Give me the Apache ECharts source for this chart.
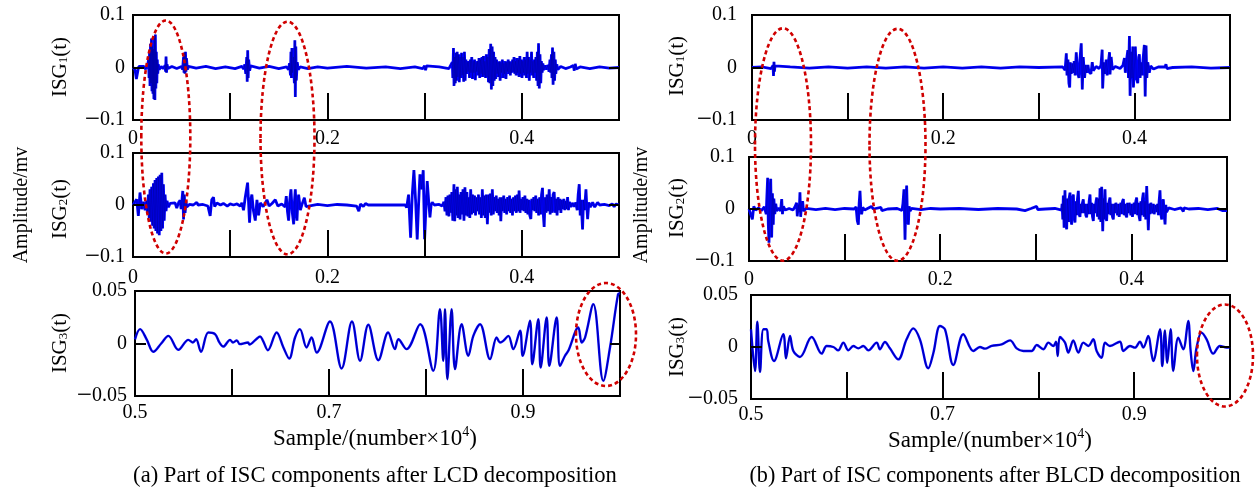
<!DOCTYPE html>
<html><head><meta charset="utf-8">
<script src="https://cdn.jsdelivr.net/npm/echarts@6/dist/echarts.min.js"></script>
<style>html,body{margin:0;padding:0;background:#fff}#c{width:1260px;height:494px}</style>
</head><body><div id="c"></div>
<script>
// ---------- tick labels ----------
const xLabelsTop = ['0', '0.2', '0.4'];
const xLabelsBottom = ['0.5', '0.7', '0.9'];
const yLabelsWide = ['\u22120.1', '0', '0.1'];
const yLabelsNarrow = ['\u22120.05', '0', '0.05'];

// ---------- (a) LCD ----------
const lcd1 = [[0,0],[0.002,-0.004],[0.0035,-0.022],[0.005,-0.006],[0.006,0.002],[0.008,0],[0.011,0.002],[0.013,-0.003],[0.015,0.004],
[0.016,0.015],[0.0165,-0.02],[0.017,0.03],[0.0175,-0.035],[0.018,0.045],[0.0185,-0.03],[0.019,0.055],[0.0195,-0.045],[0.020,0.04],[0.0205,-0.05],[0.021,0.035],[0.0215,-0.06],[0.022,0.06],[0.0225,-0.062],[0.023,0.063],[0.0235,-0.04],[0.024,0.03],[0.0245,-0.03],[0.025,0.015],[0.0255,-0.012],[0.026,0.006],[0.027,-0.004],[0.029,0.002],[0.031,-0.002],
[0.033,0.004],[0.0335,-0.008],[0.034,0.021],[0.0345,-0.01],[0.035,0.006],[0.036,-0.002],[0.04,0.002],[0.045,-0.002],[0.05,0.002],
[0.051,-0.004],[0.052,0.02],[0.0525,-0.01],[0.053,0.028],[0.0535,-0.012],[0.054,0.03],[0.0545,-0.008],[0.055,0.018],[0.056,-0.004],[0.057,0.002],
[0.065,-0.001],[0.075,0.002],[0.085,-0.002],[0.095,0.001],[0.105,-0.002],[0.112,0.002],
[0.114,-0.003],[0.115,0.006],[0.116,-0.012],[0.117,0.02],[0.1175,-0.027],[0.118,0.033],[0.1185,-0.02],[0.119,0.015],[0.12,-0.006],[0.121,0.003],
[0.13,-0.001],[0.14,0.002],[0.15,-0.002],[0.158,0.001],
[0.16,-0.004],[0.161,0.008],[0.162,-0.015],[0.1625,0.03],[0.163,-0.02],[0.1635,0.037],[0.164,-0.01],[0.165,0.02],[0.166,-0.03],[0.1665,0.052],[0.167,-0.056],[0.1675,0.04],[0.168,-0.025],[0.169,0.01],[0.17,-0.004],[0.172,0.001],
[0.18,-0.002],[0.19,0.001],[0.2,-0.001],[0.22,0.002],[0.24,-0.001],[0.26,0.001],[0.275,-0.002],[0.29,0.001],[0.298,-0.002],[0.3,0.003],[0.301,-0.005],[0.302,0.003],[0.304,0],[0.315,0.001],[0.325,-0.002],
[0.3285,0.01],[0.329,-0.02],[0.3297,0.037],[0.3303,-0.035],[0.331,0.02],[0.3316,-0.03],[0.3322,0.028],[0.3328,-0.025],[0.3335,0.03],[0.3342,-0.018],[0.335,0.025],[0.3357,-0.028],[0.3365,0.02],[0.3372,-0.02],[0.338,0.028],[0.3387,-0.015],[0.3395,0.02],[0.3402,-0.027],[0.341,0.03],[0.3417,-0.025],[0.3425,0.015],[0.3432,-0.012],[0.344,0.01],[0.3447,-0.008],[0.3455,0.012],[0.3462,-0.02],[0.347,0.015],[0.3477,-0.01],[0.3485,0.02],[0.3492,-0.022],[0.35,0.012],[0.3507,-0.01],[0.3515,0.015],[0.3522,-0.024],[0.353,0.01],[0.3537,-0.008],[0.3545,0.012],[0.3552,-0.015],[0.356,0.018],[0.3567,-0.02],[0.3575,0.015],[0.3582,-0.012],[0.359,0.02],[0.3597,-0.018],[0.3605,0.022],[0.3612,-0.015],[0.362,0.012],[0.3627,-0.02],[0.3635,0.025],[0.3642,-0.018],[0.365,0.02],[0.3657,-0.028],[0.3665,0.035],[0.3672,-0.03],[0.368,0.045],[0.3687,-0.042],[0.3695,0.04],[0.3702,-0.035],[0.371,0.03],[0.3717,-0.025],[0.3725,0.02],[0.3732,-0.022],[0.374,0.015],[0.3747,-0.012],[0.3755,0.01],[0.3762,-0.018],[0.377,0.012],[0.3777,-0.025],[0.3785,0.01],[0.3792,-0.01],[0.38,0.015],[0.3807,-0.02],[0.3815,0.008],[0.3822,-0.012],[0.383,0.012],[0.3837,-0.022],[0.3845,0.01],[0.3852,-0.008],[0.386,0.015],[0.3867,-0.012],[0.3875,0.012],[0.3882,-0.015],[0.389,0.01],[0.3897,-0.01],[0.3905,0.015],[0.3912,-0.008],[0.392,0.02],[0.3927,-0.012],[0.3935,0.012],[0.3942,-0.015],[0.395,0.018],[0.3957,-0.01],[0.3965,0.015],[0.3972,-0.018],[0.398,0.022],[0.3987,-0.012],[0.3995,0.015],[0.4002,-0.02],[0.401,0.012],[0.4017,-0.01],[0.4025,0.02],[0.4032,-0.015],[0.404,0.015],[0.4047,-0.02],[0.4055,0.03],[0.4062,-0.012],[0.407,0.02],[0.4077,-0.025],[0.4085,0.015],[0.4092,-0.01],[0.41,0.03],[0.4107,-0.015],[0.4115,0.012],[0.4122,-0.02],[0.413,0.015],[0.4137,-0.01],[0.4145,0.02],[0.4152,-0.025],[0.416,0.03],[0.4167,-0.035],[0.4172,0.046],[0.418,-0.04],[0.4187,0.025],[0.4195,-0.03],[0.4202,0.012],[0.421,-0.01],[0.4217,0.008],[0.4225,-0.005],[0.424,0.004],[0.4255,-0.004],[0.427,0.005],[0.428,-0.008],[0.429,0.015],[0.4297,-0.01],[0.4305,0.025],[0.431,-0.02],[0.4316,0.038],[0.4322,-0.033],[0.433,0.03],[0.4337,-0.025],[0.4345,0.015],[0.435,-0.012],[0.436,0.006],[0.437,-0.004],[0.44,0.002],[0.445,-0.002],[0.45,0.001],[0.453,0.004],[0.454,-0.006],[0.455,0.007],[0.456,-0.003],[0.46,0.001],[0.47,-0.002],[0.48,0.001],[0.49,-0.001],[0.5,0]];

const lcd2 = [[0,0],[0.002,0.003],[0.0038,0.011],[0.0055,-0.021],[0.0072,0.024],[0.009,-0.008],[0.0107,0.006],[0.0125,-0.01],[0.0141,0.008],[0.015,-0.015],[0.0158,0.02],[0.0167,-0.025],[0.0175,0.03],[0.0184,-0.032],[0.0192,0.035],[0.0201,-0.04],[0.021,0.042],[0.0218,-0.045],[0.0227,0.048],[0.0235,-0.05],[0.0244,0.052],[0.0252,-0.055],[0.0261,0.055],[0.027,-0.058],[0.0279,0.058],[0.0287,-0.05],[0.0296,0.062],[0.0304,-0.045],[0.0313,0.04],[0.0321,-0.03],[0.033,0.02],[0.034,-0.012],[0.035,0.008],[0.0365,-0.004],[0.0381,0.003],[0.04,0],[0.0433,0.004],[0.045,-0.006],[0.047,0.005],[0.0485,0.009],[0.0495,-0.008],[0.0512,0.027],[0.052,-0.028],[0.0528,0.02],[0.0536,-0.015],[0.0545,0.008],[0.0553,-0.004],[0.058,0.001],[0.062,0],[0.0656,0.005],[0.067,0],[0.072,0.001],[0.077,-0.002],[0.0794,-0.021],[0.081,0.01],[0.0828,0.015],[0.084,-0.003],[0.0863,0.004],[0.09,0],[0.093,0.003],[0.097,-0.002],[0.1,0.002],[0.1034,0],[0.107,0.002],[0.1103,-0.002],[0.112,0.004],[0.1137,-0.01],[0.1155,0.015],[0.1179,0.043],[0.1199,-0.034],[0.1212,0.01],[0.1223,0.02],[0.124,-0.012],[0.1258,-0.03],[0.1275,0.01],[0.1292,-0.02],[0.131,0.004],[0.134,-0.003],[0.1378,0.01],[0.14,-0.002],[0.143,0.003],[0.1464,0.01],[0.149,-0.002],[0.153,0.002],[0.1565,-0.004],[0.1577,0.017],[0.1589,-0.012],[0.1601,-0.03],[0.1613,0.01],[0.1625,0.03],[0.1639,-0.015],[0.1653,-0.037],[0.1662,0.01],[0.167,0.03],[0.1679,-0.01],[0.1687,-0.03],[0.1695,0.005],[0.1704,0.02],[0.1722,-0.01],[0.174,0.002],[0.1763,0.014],[0.178,-0.003],[0.18,0],[0.19,0.001],[0.2,-0.001],[0.21,0.001],[0.22,0],[0.23,-0.002],[0.2323,-0.012],[0.234,0.002],[0.237,-0.003],[0.2392,0.003],[0.242,0],[0.26,0],[0.28,0],[0.2815,-0.005],[0.2835,0.02],[0.2856,-0.063],[0.2873,0.02],[0.289,0.067],[0.2907,0.01],[0.2924,-0.066],[0.2938,0.0],[0.2952,0.059],[0.2969,0.03],[0.2986,0.067],[0.2993,0.0],[0.3,-0.066],[0.3013,-0.01],[0.3027,0.046],[0.3041,0.01],[0.3055,-0.024],[0.3067,0.0],[0.3079,0.005],[0.31,0],[0.315,0.001],[0.318,-0.002],
[0.3199,0.006],[0.321,-0.012],[0.322,0.015],[0.323,-0.02],[0.324,0.018],[0.325,-0.022],[0.326,0.02],[0.327,-0.015],[0.328,0.025],[0.329,-0.03],[0.3302,0.04],[0.331,-0.031],[0.332,0.03],[0.333,-0.02],[0.3337,0.035],[0.3345,-0.025],[0.3355,0.02],[0.3365,-0.028],[0.3375,0.025],[0.3385,-0.018],[0.3395,0.03],[0.3405,-0.03],[0.3415,0.034],[0.3425,-0.02],[0.3435,0.025],[0.3445,-0.022],[0.3455,0.015],[0.3465,-0.025],[0.3474,0.03],[0.3484,-0.018],[0.3494,0.02],[0.3504,-0.015],[0.3514,0.018],[0.3524,-0.02],[0.3534,0.015],[0.3544,-0.012],[0.3554,0.02],[0.3564,-0.018],[0.3574,0.015],[0.3584,-0.025],[0.3594,0.03],[0.3604,-0.02],[0.3614,0.018],[0.3624,-0.025],[0.3634,0.02],[0.3646,-0.037],[0.3656,0.02],[0.3666,-0.015],[0.3676,0.022],[0.3686,-0.02],[0.3697,0.03],[0.3707,-0.018],[0.3717,0.015],[0.3727,-0.012],[0.3737,0.018],[0.3747,-0.015],[0.3757,0.012],[0.3767,-0.02],[0.3776,0.015],[0.3784,-0.031],[0.3794,0.015],[0.3804,-0.012],[0.3814,0.018],[0.3824,-0.015],[0.3834,0.012],[0.3844,-0.018],[0.3854,0.015],[0.3864,-0.012],[0.3874,0.018],[0.3884,-0.015],[0.3894,0.012],[0.3904,-0.02],[0.3914,0.015],[0.3924,-0.012],[0.3934,0.018],[0.3944,-0.015],[0.3954,0.02],[0.3964,-0.012],[0.3972,0.028],[0.3982,-0.015],[0.3992,0.012],[0.4002,-0.01],[0.4012,0.015],[0.4022,-0.012],[0.4032,0.018],[0.4042,-0.015],[0.4052,0.012],[0.4062,-0.018],[0.4072,0.01],[0.4082,-0.02],[0.4093,-0.027],[0.4103,0.012],[0.4113,-0.01],[0.4123,0.015],[0.4133,-0.012],[0.4143,0.018],[0.4153,-0.015],[0.4163,0.012],[0.4173,-0.02],[0.4183,0.015],[0.4193,-0.018],[0.4203,0.02],[0.4213,0.033],[0.4222,-0.02],[0.423,-0.042],[0.424,0.015],[0.425,-0.015],[0.426,0.02],[0.427,-0.012],[0.4282,0.03],[0.4292,-0.018],[0.4302,0.015],[0.4312,-0.015],[0.4322,0.02],[0.4333,0.025],[0.4343,-0.015],[0.4353,0.012],[0.4363,-0.02],[0.4373,0.015],[0.4383,-0.01],[0.4393,0.012],[0.4402,-0.015],[0.4412,0.01],[0.4422,-0.008],[0.4432,0.012],[0.4442,-0.01],[0.4452,0.008],[0.4462,-0.008],[0.4471,0.015],[0.448,-0.01],[0.449,0.006],[0.4505,-0.004],[0.452,0.004],[0.454,-0.003],[0.4555,0.005],[0.457,-0.01],[0.458,0.02],[0.4591,0.04],[0.4601,-0.02],[0.461,0.01],[0.4625,-0.047],[0.4635,0.01],[0.4645,-0.01],[0.466,0.03],[0.4668,0.0],[0.4677,-0.027],[0.469,0.005],[0.4705,-0.004],[0.4729,0.005],[0.475,-0.004],[0.478,0.005],[0.48,0],[0.485,0.001],[0.49,-0.001],[0.4918,-0.003],[0.493,0.002],[0.495,-0.003],[0.497,0.002],[0.5,0]];

const lcd3 = [[0.5,0.004],[0.5052,0.0137],[0.512,0.004],[0.5189,-0.0079],[0.527,0.0],[0.5344,0.0073],[0.5447,-0.006],[0.555,0.0035],[0.5597,0.001],[0.563,0.004],[0.568,-0.0079],[0.5756,0.0105],[0.5825,0.0089],[0.587,0.001],[0.591,-0.0029],[0.598,0.0035],[0.601,0.001],[0.605,0.003],[0.608,-0.0006],[0.6166,0.001],[0.618,-0.001],[0.625,0.0041],[0.629,0.0067],[0.632,0.0025],[0.637,-0.0064],[0.646,0.0105],[0.653,-0.0038],[0.659,-0.0143],[0.665,0.0057],[0.670,0.0137],[0.6769,-0.0038],[0.682,0.0057],[0.6873,-0.0086],[0.701,0.021],[0.713,-0.0238],[0.7237,0.021],[0.732,-0.0165],[0.7405,0.0178],[0.7509,-0.0159],[0.761,0.0105],[0.768,-0.0054],[0.7715,0.0041],[0.78,-0.0054],[0.794,0.0184],[0.8075,-0.026],[0.8144,0.0327],[0.8178,-0.0165],[0.8196,0.0327],[0.822,-0.034],[0.8264,0.0327],[0.8299,-0.0244],[0.8367,0.0184],[0.8436,-0.0117],[0.8488,0.0073],[0.8557,0.0184],[0.866,-0.0149],[0.8728,0.0057],[0.8763,0.001],[0.8797,0.0025],[0.8849,0.0073],[0.89,-0.0054],[0.897,0.0121],[0.8997,-0.0117],[0.9072,0.0216],[0.9096,-0.0197],[0.9158,0.0232],[0.9182,-0.0229],[0.9244,0.0248],[0.9271,-0.0213],[0.9347,0.0248],[0.9381,-0.0213],[0.9433,-0.0117],[0.9467,-0.007],[0.957,0.0152],[0.9605,0.001],[0.964,0.0057],[0.9725,0.0375],[0.9828,-0.0356],[0.9897,-0.0038],[0.998,0.047],[1.0,0.048]];

// ---------- (b) BLCD ----------
const blcd1 = [[0,0],[0.01,0.001],[0.02,-0.002],[0.022,0.004],[0.0225,-0.016],[0.023,0.011],[0.0235,-0.008],[0.024,0.003],[0.026,0],[0.04,0.001],[0.06,-0.001],[0.08,0.001],[0.1,-0.001],[0.12,0.001],[0.14,-0.001],[0.16,0.001],[0.18,-0.001],[0.2,0.001],[0.22,-0.001],[0.24,0.001],[0.26,-0.001],[0.28,0.001],[0.3,0],[0.325,0.001],[0.3275,-0.005],[0.3288,0.027],[0.3295,-0.015],[0.3305,0.015],[0.3315,-0.03],[0.3323,-0.038],[0.333,0.01],[0.334,-0.012],[0.335,0.008],[0.336,-0.01],[0.337,0.012],[0.338,-0.015],[0.3392,0.029],[0.3405,-0.01],[0.342,-0.02],[0.343,0.015],[0.3444,0.046],[0.3455,-0.042],[0.3465,0.02],[0.3479,-0.02],[0.349,0.005],[0.35,-0.01],[0.3514,0.005],[0.3525,-0.008],[0.3545,-0.012],[0.3559,0.01],[0.357,-0.006],[0.3583,-0.005],[0.36,0.002],[0.363,-0.002],[0.365,0.004],[0.3663,0.034],[0.3668,-0.04],[0.368,0.01],[0.369,-0.012],[0.3705,0.015],[0.3715,-0.015],[0.3728,0.01],[0.374,0.029],[0.3745,-0.013],[0.3757,0.02],[0.377,-0.004],[0.38,0.002],[0.385,-0.002],[0.388,0.004],[0.3896,0.018],[0.3905,-0.01],[0.3915,0.01],[0.3931,0.033],[0.3938,-0.02],[0.3948,0.06],[0.3955,-0.054],[0.3965,0.03],[0.3975,-0.02],[0.3983,0.04],[0.399,-0.038],[0.401,0.04],[0.402,-0.02],[0.4035,-0.03],[0.4045,0.02],[0.4052,0.025],[0.406,-0.02],[0.407,0.01],[0.408,-0.015],[0.409,0.015],[0.4104,0.043],[0.4113,-0.055],[0.4122,0.042],[0.413,-0.02],[0.414,0.01],[0.4156,-0.01],[0.417,0.003],[0.4184,0.006],[0.42,-0.003],[0.425,0.001],[0.432,0.001],[0.433,0.006],[0.434,-0.002],[0.44,0],[0.46,0.001],[0.48,-0.001],[0.5,0]];

const blcd2 = [[0,0],[0.002,-0.002],[0.0035,-0.02],[0.005,0.005],[0.007,-0.002],[0.01,0.002],[0.013,-0.003],[0.016,0.004],[0.018,-0.01],[0.0185,0.015],[0.0195,0.06],[0.0202,-0.03],[0.0209,-0.065],[0.0218,0.02],[0.0227,0.058],[0.0237,-0.055],[0.0245,0.03],[0.0254,-0.03],[0.026,0.02],[0.027,-0.01],[0.028,0.01],[0.029,-0.004],[0.031,0.002],[0.033,-0.004],[0.0342,0.019],[0.035,-0.01],[0.036,0.005],[0.038,-0.002],[0.042,0.001],[0.046,-0.002],[0.048,0.004],[0.0498,0.012],[0.0505,-0.014],[0.0515,0.008],[0.0525,-0.006],[0.0533,0.032],[0.054,-0.015],[0.055,0.01],[0.0561,0.015],[0.057,-0.004],[0.06,0.001],[0.07,-0.001],[0.08,0.001],[0.09,-0.001],[0.1,0.001],[0.11,0],[0.112,0.004],[0.1133,-0.023],[0.1144,-0.03],[0.1152,0.01],[0.1161,0.035],[0.117,0.0],[0.1178,-0.01],[0.119,0.003],[0.121,-0.002],[0.128,0.005],[0.13,0],[0.138,0.003],[0.139,-0.003],[0.145,0],[0.155,0.001],[0.16,-0.003],[0.161,0.01],[0.1621,0.038],[0.1632,-0.059],[0.164,0.01],[0.1649,0.045],[0.1658,-0.02],[0.1667,-0.03],[0.1675,0.005],[0.1685,-0.004],[0.17,0.001],[0.18,-0.001],[0.19,0.001],[0.2,0],[0.22,0.001],[0.24,-0.001],[0.26,0.001],[0.28,0],[0.2887,-0.003],[0.295,0.001],[0.3009,0.005],[0.302,-0.001],[0.31,0],[0.32,0.001],[0.327,-0.002],
[0.3275,0.01],[0.3282,-0.02],[0.3288,0.026],[0.3296,-0.036],[0.3305,0.036],[0.3314,-0.03],[0.3323,-0.039],[0.333,0.02],[0.334,-0.025],[0.3348,0.02],[0.3358,0.0315],[0.3366,-0.02],[0.3375,-0.03],[0.3384,0.02],[0.3393,0.028],[0.3401,-0.015],[0.341,-0.026],[0.3418,0.015],[0.3427,-0.012],[0.3436,0.02],[0.3445,0.035],[0.3453,-0.01],[0.3462,-0.015],[0.347,0.01],[0.348,-0.008],[0.3488,0.012],[0.3497,0.0186],[0.3505,-0.008],[0.3514,0.01],[0.3523,-0.012],[0.3532,-0.016],[0.354,0.01],[0.355,-0.01],[0.3558,0.015],[0.3567,0.028],[0.3575,-0.01],[0.3584,0.012],[0.3593,-0.015],[0.3602,-0.023],[0.361,0.01],[0.362,-0.008],[0.3628,0.012],[0.3637,0.022],[0.3645,-0.015],[0.3655,0.02],[0.3663,-0.02],[0.3672,0.04],[0.368,-0.025],[0.3689,0.0425],[0.37,-0.0426],[0.3708,0.02],[0.3716,-0.02],[0.3724,0.038],[0.3732,-0.015],[0.3741,-0.023],[0.375,0.012],[0.3758,-0.01],[0.3767,0.015],[0.3776,0.022],[0.3785,-0.012],[0.3794,0.01],[0.3802,-0.015],[0.3811,-0.02],[0.382,0.01],[0.3828,-0.008],[0.3837,0.012],[0.3846,0.015],[0.3855,-0.012],[0.3864,0.01],[0.3872,-0.015],[0.3881,-0.016],[0.389,0.012],[0.3898,-0.01],[0.3907,0.015],[0.3916,0.019],[0.3925,-0.012],[0.3934,0.01],[0.3942,-0.012],[0.3951,-0.016],[0.396,0.012],[0.3968,-0.008],[0.3977,0.012],[0.3985,0.015],[0.3994,-0.012],[0.4003,0.01],[0.4011,-0.015],[0.402,-0.017],[0.4029,0.012],[0.4038,-0.01],[0.4046,0.015],[0.4055,0.022],[0.4064,-0.012],[0.4072,0.012],[0.4081,-0.015],[0.409,-0.023],[0.4099,0.015],[0.4107,-0.012],[0.4116,0.02],[0.4125,0.0315],[0.4133,-0.015],[0.4142,0.015],[0.415,-0.02],[0.416,0.044],[0.4177,-0.041],[0.4186,0.01],[0.4195,-0.01],[0.4203,0.012],[0.4212,0.015],[0.422,-0.008],[0.423,0.01],[0.4238,-0.01],[0.4247,-0.0135],[0.4256,0.008],[0.4265,-0.006],[0.4274,0.01],[0.4282,-0.012],[0.429,0.015],[0.4299,0.036],[0.4308,-0.01],[0.4317,-0.02],[0.4325,0.01],[0.4334,0.0186],[0.4343,-0.01],[0.4352,-0.0297],[0.436,0.008],[0.4368,-0.006],[0.4376,-0.005],[0.439,0.002],[0.445,-0.001],[0.452,0.002],[0.4535,0.005],[0.4543,-0.005],[0.455,0.002],[0.46,0],[0.47,0.001],[0.48,-0.001],[0.49,0.001],[0.495,-0.003],[0.5,-0.003]];

const blcd3 = [[0.5,0.017],[0.5042,-0.0231],[0.5066,0.0244],[0.5094,-0.024],[0.5129,0.017],[0.5163,0.017],[0.518,0.0058],[0.524,-0.0135],[0.5337,0.0122],[0.5365,-0.0109],[0.5407,0.0106],[0.5442,-0.0038],[0.5511,-0.0096],[0.5633,0.0096],[0.5738,-0.0064],[0.579,0.001],[0.586,0.0],[0.591,-0.0032],[0.5964,0.0042],[0.6016,-0.0032],[0.6068,0.001],[0.612,-0.0013],[0.6173,0.001],[0.6225,-0.0032],[0.6312,0.0042],[0.6346,-0.0022],[0.6398,0.0048],[0.645,-0.0013],[0.6537,-0.0119],[0.6624,0.0074],[0.6694,0.0179],[0.6763,0.0074],[0.685,-0.0205],[0.6903,-0.006],[0.6973,0.0202],[0.7025,0.017],[0.7112,-0.0173],[0.7216,0.0122],[0.7321,-0.0038],[0.739,0.0],[0.7443,-0.0016],[0.7512,0.001],[0.7617,0.0026],[0.7704,0.0064],[0.7773,-0.0013],[0.7843,-0.0038],[0.793,-0.0038],[0.7982,0.0019],[0.8051,-0.0022],[0.8104,0.0042],[0.8156,0.001],[0.8184,0.0051],[0.8201,-0.0087],[0.8225,0.0096],[0.8278,0.0042],[0.8312,-0.0054],[0.8364,0.0064],[0.8417,-0.0054],[0.8469,0.0042],[0.8521,0.001],[0.8573,0.0074],[0.8608,-0.0038],[0.866,-0.0103],[0.8695,0.0042],[0.8747,0.001],[0.8851,0.0051],[0.8886,-0.0038],[0.8956,0.001],[0.9008,-0.0006],[0.906,0.0051],[0.9095,-0.0006],[0.9147,0.0106],[0.9182,-0.0071],[0.9199,-0.0135],[0.9269,0.017],[0.9293,-0.0183],[0.9321,0.016],[0.9345,-0.0151],[0.938,0.017],[0.9408,-0.0231],[0.946,0.009],[0.9512,-0.0022],[0.9564,0.025],[0.9589,-0.0038],[0.9617,-0.0231],[0.9651,-0.0006],[0.9703,0.0138],[0.9756,0.0074],[0.9825,-0.0064],[0.9895,0.001],[0.9965,-0.0006],[1.0,0.0]];

// ---------- layout ----------
const FONT = 'Liberation Serif';
const panels = [
  {g:{left:133,top:15,width:486,height:105}, d:lcd1, xmin:0, ym:0.1, xl:xLabelsTop, yl:yLabelsWide, smooth:false, lm:8, xm:9, name:'1', nx:60, ny:67},
  {g:{left:133,top:153,width:486,height:104}, d:lcd2, xmin:0, ym:0.1, xl:xLabelsTop, yl:yLabelsWide, smooth:false, lm:8, xm:11, name:'2', nx:60, ny:209},
  {g:{left:135,top:291,width:485,height:105}, d:lcd3, xmin:0.5, ym:0.05, xl:xLabelsBottom, yl:yLabelsNarrow, smooth:0.35, lm:8, xm:7, name:'3', nx:60, ny:343},
  {g:{left:752,top:15,width:478,height:105}, d:blcd1, xmin:0, ym:0.1, xl:xLabelsTop, yl:yLabelsWide, smooth:false, lm:15, xm:9, name:'1', nx:677, ny:66},
  {g:{left:749,top:157,width:478,height:104}, d:blcd2, xmin:0, ym:0.1, xl:xLabelsTop, yl:yLabelsWide, smooth:false, lm:14, xm:9, name:'2', nx:677, ny:208},
  {g:{left:751,top:295,width:479,height:104}, d:blcd3, xmin:0.5, ym:0.05, xl:xLabelsBottom, yl:yLabelsNarrow, smooth:0.35, lm:13, xm:6, name:'3', nx:677, ny:347}
];

const grid = [], xAxis = [], yAxis = [], series = [], graphic = [];
const lbl = {fontFamily:FONT, fontSize:20, color:'#000'};
const negRich = {n:{fontFamily:FONT, fontSize:27, color:'#000', lineHeight:20}, v:{fontFamily:FONT, fontSize:20, color:'#000', lineHeight:20}};
panels.forEach((p, i) => {
  grid.push(Object.assign({show:true, borderColor:'#000', borderWidth:2, backgroundColor:'#fff'}, p.g));
  xAxis.push({type:'value', gridIndex:i, min:p.xmin, max:p.xmin + 0.5, interval:0.1, position:'bottom', z:10,
    axisLine:{show:false, onZero:false}, splitLine:{show:false},
    axisTick:{show:true, inside:true, length:27, lineStyle:{color:'#000', width:2}},
    axisLabel:Object.assign({margin:p.xm, showMinLabel:true, showMaxLabel:true,
      formatter:v => { const s = String(Math.round(v * 10) / 10); return p.xl.includes(s) ? s : ''; }}, lbl)});
  yAxis.push({type:'value', gridIndex:i, min:-p.ym, max:p.ym, interval:p.ym, position:'left', z:10,
    axisLine:{show:false, onZero:false}, splitLine:{show:false},
    axisTick:{show:true, inside:true, length:11, lineStyle:{color:'#000', width:2}},
    axisLabel:Object.assign({margin:p.lm, rich:negRich,
      formatter:v => v > 1e-9 ? '{v|' + p.yl[2] + '}' : (v < -1e-9 ? '{n|' + p.yl[0].charAt(0) + '}{v|' + p.yl[0].slice(1) + '}' : '{v|' + p.yl[1] + '}')}, lbl)});
  yAxis.push({type:'value', gridIndex:i, min:-p.ym, max:p.ym, interval:p.ym, position:'right', z:10,
    axisLine:{show:false, onZero:false}, splitLine:{show:false}, axisLabel:{show:false},
    axisTick:{show:true, inside:true, length:10, lineStyle:{color:'#000', width:2}}});
  const smooth = p.smooth;
  series.push({type:'line', xAxisIndex:i, yAxisIndex:2 * i, data:p.d, showSymbol:false, smooth:smooth,
    lineStyle:{color:'#0000ff', width:smooth ? 2.4 : 2.8}, z:3, silent:true});
  series.push({type:'line', xAxisIndex:i, yAxisIndex:2 * i, data:p.d, showSymbol:false, smooth:smooth,
    lineStyle:{color:'#000020', width:smooth ? 0.8 : 0.6, opacity:smooth ? 0.5 : 0.35}, z:4, silent:true});
  graphic.push({type:'text', x:p.nx, y:p.ny, rotation:Math.PI / 2, z:50,
    style:{text:'{m|ISG}{s|' + p.name + '}{m|(t)}', textAlign:'center', textVerticalAlign:'middle',
      rich:{m:{fontFamily:FONT, fontSize:21, lineHeight:21, fill:'#000'},
            s:{fontFamily:FONT, fontSize:13, lineHeight:8, verticalAlign:'bottom', fill:'#000'}}}});
});

const ell = (cx, cy, rx, ry) => ({type:'ellipse', z:60, shape:{cx, cy, rx, ry},
  style:{fill:'none', stroke:'#d00000', lineWidth:2.6, lineDash:[4, 3]}});
graphic.push(ell(165.8, 137, 24.5, 116.5), ell(287.5, 138, 27, 116.3), ell(606, 334.5, 30, 51.5),
  ell(783, 144.5, 28, 116.2), ell(897.5, 144.8, 28, 116), ell(1225, 355.5, 28, 51));

const txt = (x, y, text, size, rot) => ({type:'text', x, y, rotation:rot || 0, z:50,
  style:{text, fontFamily:FONT, fontSize:size, fill:'#000', textAlign:'center', textVerticalAlign:'middle',
    rich:{t:{fontFamily:FONT, fontSize:size, lineHeight:size, fill:'#000'},
          sup:{fontFamily:FONT, fontSize:14, lineHeight:28, verticalAlign:'top', fill:'#000'}}}});
graphic.push(txt(22, 205, 'Amplitude/mv', 20, Math.PI / 2), txt(642, 205, 'Amplitude/mv', 20, Math.PI / 2));
graphic.push(txt(375, 439, '{t|Sample/(number\u00d710}{sup|4}{t|)}', 23), txt(990, 441, '{t|Sample/(number\u00d710}{sup|4}{t|)}', 23));
graphic.push(txt(375, 476, '(a) Part of ISC components after LCD decomposition', 22.6),
  txt(995, 476, '(b) Part of ISC components after BLCD decomposition', 22.2));

const chart = echarts.init(document.getElementById('c'), null, {renderer:'canvas'});
chart.setOption({animation:false, grid, xAxis, yAxis, series, graphic});
</script></body></html>
